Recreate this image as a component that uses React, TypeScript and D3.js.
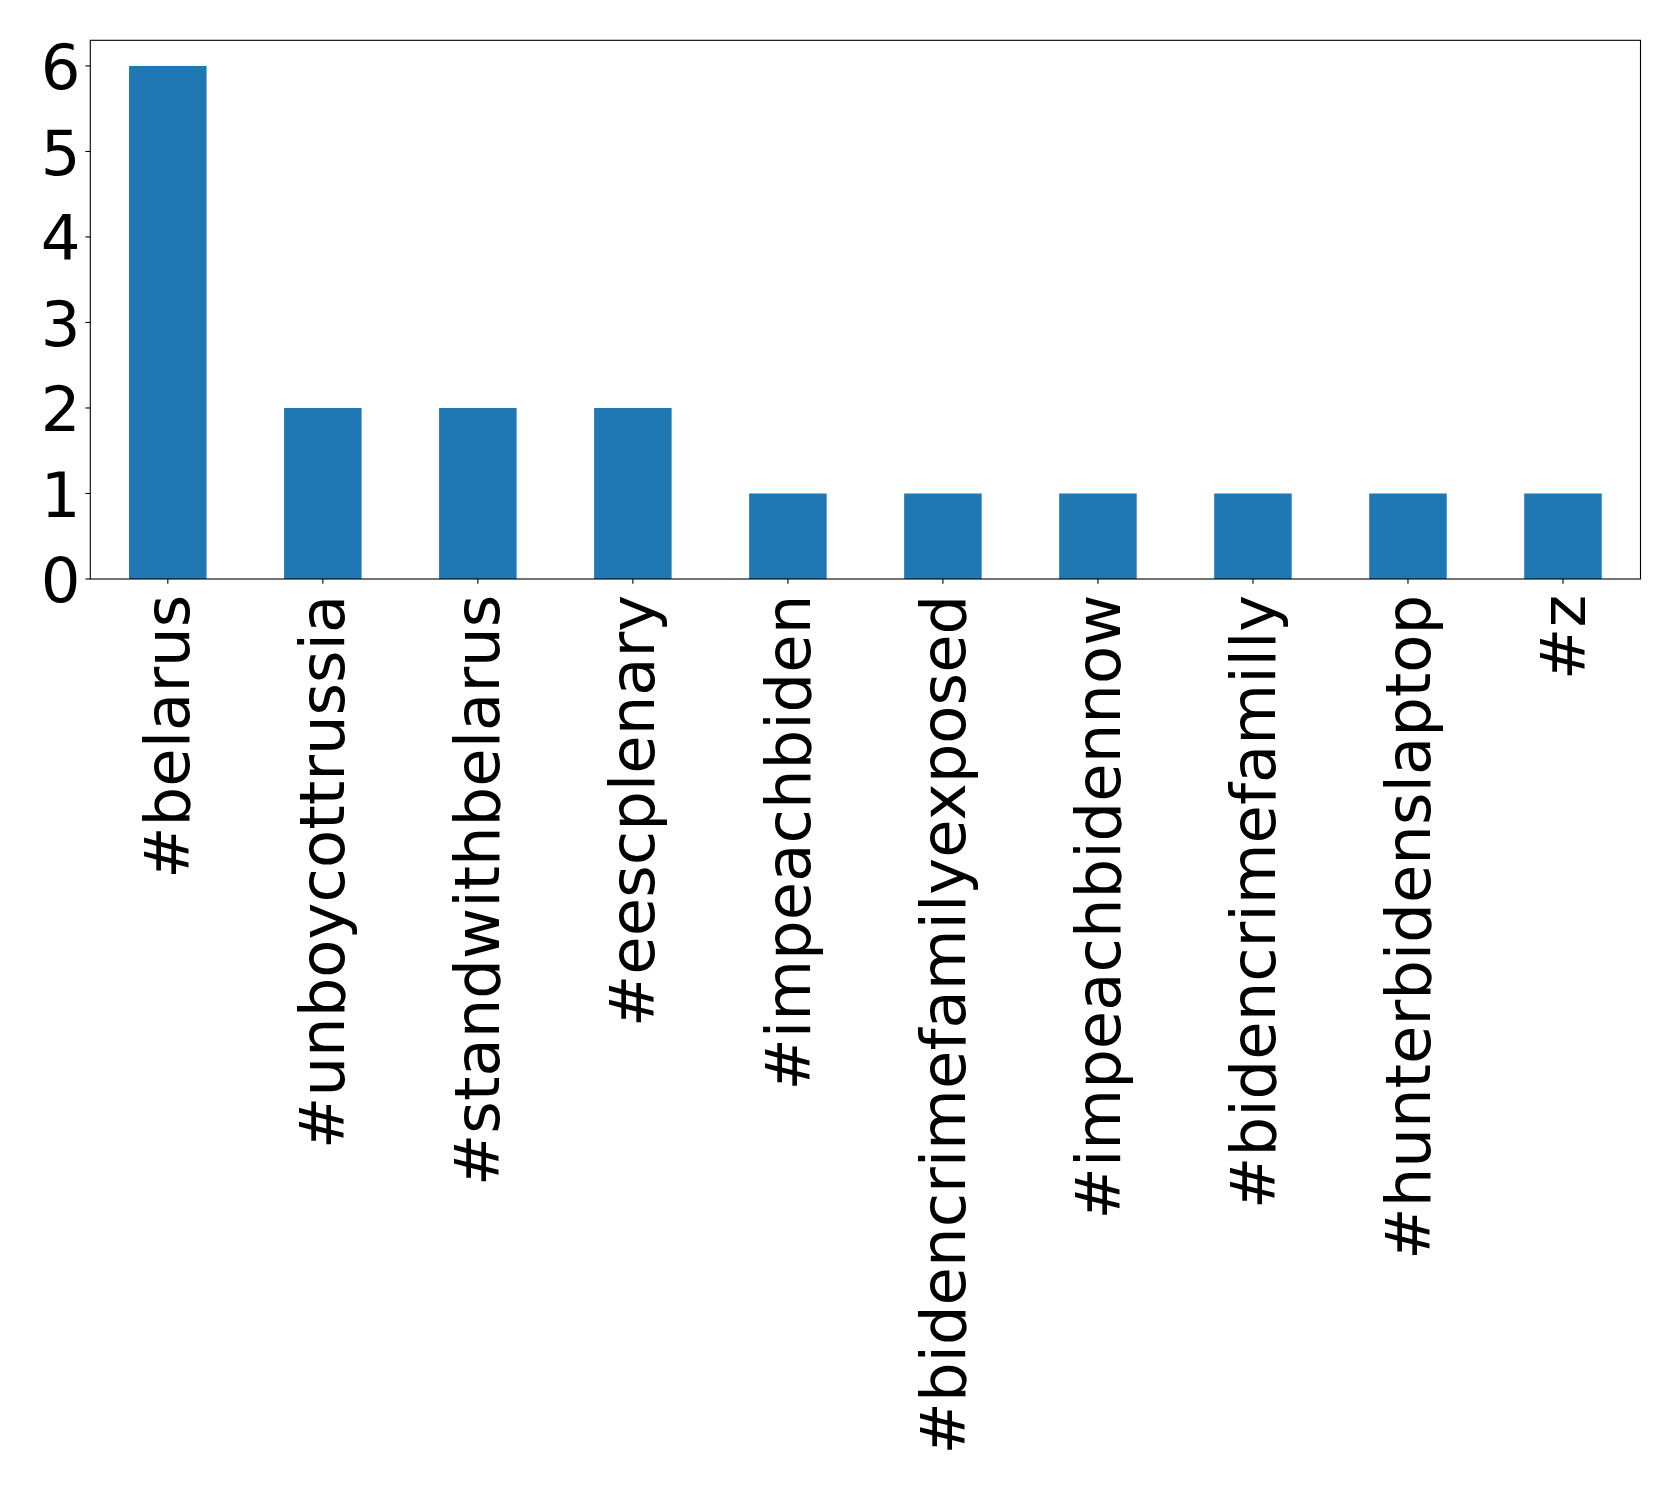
import React from "react";
import * as d3 from "d3";

const categories = [
  "#belarus",
  "#unboycottrussia",
  "#standwithbelarus",
  "#eescplenary",
  "#impeachbiden",
  "#bidencrimefamilyexposed",
  "#impeachbidennow",
  "#bidencrimefamilly",
  "#hunterbidenslaptop",
  "#z",
];
const values = [6, 2, 2, 2, 1, 1, 1, 1, 1, 1];
const yTicks = [0, 1, 2, 3, 4, 5, 6];

const W = 1679;
const H = 1488;
const left = 90.3;
const right = 1640.5;
const top = 40.3;
const bottom = 579;
const fs = 62.5;
const font = "'DejaVu Sans', sans-serif";

export default function App() {
  const x = d3
    .scaleLinear()
    .domain([-0.5, categories.length - 0.5])
    .range([left, right]);
  const y = d3.scaleLinear().domain([0, 6.3]).range([bottom, top]);
  const bw = x(0.25) - x(-0.25);
  const tickLen = 4.86;
  const pad = 4.86;

  return (
    <svg
      width={W}
      height={H}
      style={{ position: "absolute", left: 0, top: 0, background: "#fff" }}
    >
      {values.map((v, i) => (
        <rect
          key={i}
          x={x(i) - bw / 2}
          y={y(v)}
          width={bw}
          height={y(0) - y(v)}
          fill="#1f77b4"
        />
      ))}
      <rect
        x={left}
        y={top}
        width={right - left}
        height={bottom - top}
        fill="none"
        stroke="#000"
        strokeWidth={1.1}
      />
      {yTicks.map((t) => (
        <g key={t}>
          <line
            x1={left - tickLen}
            x2={left}
            y1={y(t)}
            y2={y(t)}
            stroke="#000"
            strokeWidth={1.1}
          />
          <text
            x={left - tickLen - pad}
            y={y(t)}
            dy="0.37em"
            textAnchor="end"
            fontFamily={font}
            fontSize={fs}
            fill="#000"
          >
            {t}
          </text>
        </g>
      ))}
      {categories.map((c, i) => (
        <g key={c}>
          <line
            x1={x(i)}
            x2={x(i)}
            y1={bottom}
            y2={bottom + tickLen}
            stroke="#000"
            strokeWidth={1.1}
          />
          <text
            transform={`translate(${x(i) + 0.346 * fs},${bottom + tickLen + pad + 6}) rotate(-90)`}
            textAnchor="end"
            fontFamily={font}
            fontSize={fs}
            fill="#000"
          >
            {c}
          </text>
        </g>
      ))}
    </svg>
  );
}
